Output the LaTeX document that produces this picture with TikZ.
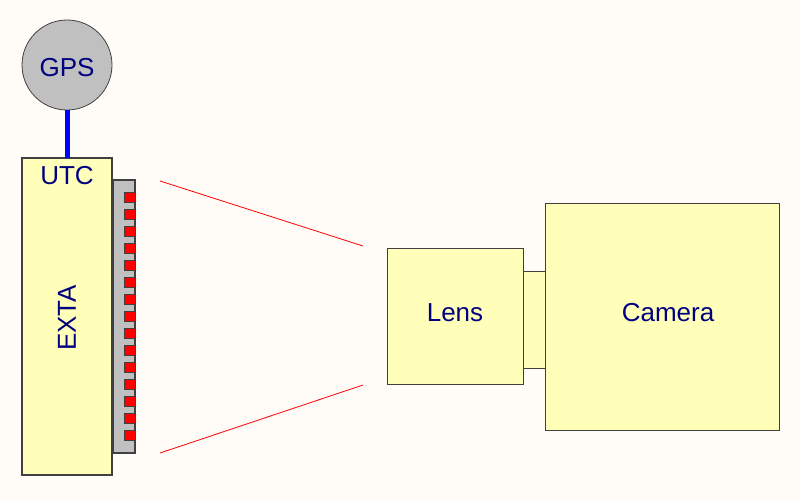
\documentclass[tikz,border=0pt]{standalone}
\usepackage{fontspec}
\setmainfont{Liberation Sans}
\definecolor{bgc}{HTML}{FFFCF8}
\definecolor{boxy}{HTML}{FFFFB9}
\definecolor{greyc}{HTML}{C0C0C0}
\definecolor{navy}{HTML}{000080}
\definecolor{edgec}{HTML}{404040}
\begin{document}
\begin{tikzpicture}[x=1pt,y=-1pt,
  ybox/.style={draw=edgec,line width=1.2pt,fill=boxy},
  lbl/.style={text=navy,font=\fontsize{26}{30}\selectfont,inner sep=0pt},
  pad/.style={draw=edgec,line width=0.8pt,fill=red},
  ray/.style={draw=red,line width=0.8pt}]
\useasboundingbox[fill=bgc] (0,0) rectangle (800,499);
% EXTA box
\draw[ybox] (22,158) rectangle (112,475);
\coordinate (extatop) at (67,158);
% strip
\draw[draw=edgec,line width=1.2pt,fill=greyc] (113,180) rectangle (135,453);
\foreach \i in {0,...,14}{
  \draw[pad] (124,{192+17*\i}) rectangle (135,{202.5+17*\i});
}
% GPS
\node[circle,draw=edgec,line width=0.8pt,fill=greyc,minimum size=90pt,inner sep=0pt] (gps) at (67,65) {};
\node[lbl] (gpst) at (67,68) {GPS};
\draw[blue,line width=5pt] (gps.south) -- (extatop);
\node[lbl] (utc) at (67,176) {UTC};
\node[lbl,rotate=90] (exta) at (67,318) {EXTA};
% lens, adapter, camera
\node[ybox,minimum width=136pt,minimum height=136pt,inner sep=0pt,anchor=north west] (lens) at (387,248) {};
\node[lbl] (lenst) at (455,313) {Lens};
\node[ybox,minimum width=22pt,minimum height=97pt,inner sep=0pt,anchor=north west] (adapt) at (523,271) {};
\node[ybox,minimum width=234pt,minimum height=227pt,inner sep=0pt,anchor=north west] (cam) at (545,203) {};
\node[lbl] (camt) at (668,313) {Camera};
% rays
\coordinate (r1a) at (160,181);
\coordinate (r1b) at (363,246);
\coordinate (r2a) at (160,453);
\coordinate (r2b) at (363,385);
\draw[ray] (r1a) -- (r1b);
\draw[ray] (r2a) -- (r2b);
\end{tikzpicture}
\end{document}
